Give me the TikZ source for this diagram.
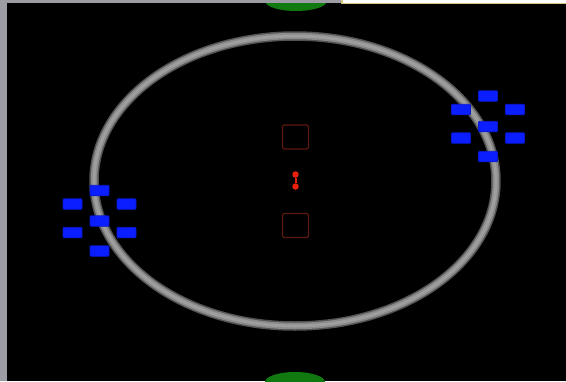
\documentclass[tikz,border=0pt]{standalone}
\usepackage{xcolor}
\usepackage{tikz}
\usetikzlibrary{arrows.meta,positioning,calc}

\definecolor{ringgray}{HTML}{8A8A8A}
\definecolor{ringlight}{HTML}{9E9E9E}
\definecolor{padblue}{HTML}{0A1EFF}
\definecolor{ledred}{HTML}{E8200C}
\definecolor{pinred}{HTML}{5E1812}
\definecolor{capgreen}{HTML}{107A10}
\definecolor{framegray}{HTML}{9C9CA4}
\definecolor{tabtan}{HTML}{D6C27E}

\begin{document}
\begin{tikzpicture}[
    x=1pt,y=-1pt,
    pad/.style={fill=padblue,draw=padblue!80!black,line width=0.8pt,rounded corners=1pt,inner sep=0pt,minimum width=19pt,minimum height=10.5pt},
    pinbox/.style={draw=pinred,line width=1.1pt,rounded corners=1.5pt,inner sep=0pt,minimum width=26pt,minimum height=24pt},
    led/.style={circle,fill=ledred,inner sep=0pt,minimum size=6.5pt}
]
\fill[black] (0,0) rectangle (566,381);
\useasboundingbox (0,0) rectangle (566,381);
% end caps
\fill[capgreen] (296,1) ellipse [x radius=31,y radius=10];
\fill[capgreen] (295,382) ellipse [x radius=30,y radius=10];
% ring
\draw[ringgray!60!black,line width=9.5pt] (295,181) ellipse [x radius=201,y radius=145];
\draw[ringgray,line width=6.5pt] (295,181) ellipse [x radius=201,y radius=145];
\draw[ringlight,line width=3pt] (295,181) ellipse [x radius=201,y radius=145];
% frame strips
\fill[framegray] (0,0) rectangle (341,3);
\fill[framegray] (0,0) rectangle (7,381);
\fill[white] (341,0) rectangle (566,4);
\draw[tabtan,line width=1.5pt] (341.8,0) -- (341.8,3.5) -- (566,3.5);
% centre part
\node[pinbox] (pintop) at (295.5,137) {};
\node[pinbox] (pinbot) at (295.5,225.5) {};
\node[led] (leda) at (295.5,174.5) {};
\node[led] (ledb) at (295.5,186.5) {};
\draw[ledred,line width=2pt] (leda) -- (ledb);
% pad groups
\foreach \g/\cx/\cy in {l/99.5/221,r/488/126.5}{
  \foreach \n/\dx/\dy in {1/0/-30.5,2/-27/-17,3/27/-17,4/0/0,5/-27/11.5,6/27/11.5,7/0/30}{
    \node[pad] (pad\g\n) at (\cx+\dx,\cy+\dy) {};
  }
}
\end{tikzpicture}
\end{document}
